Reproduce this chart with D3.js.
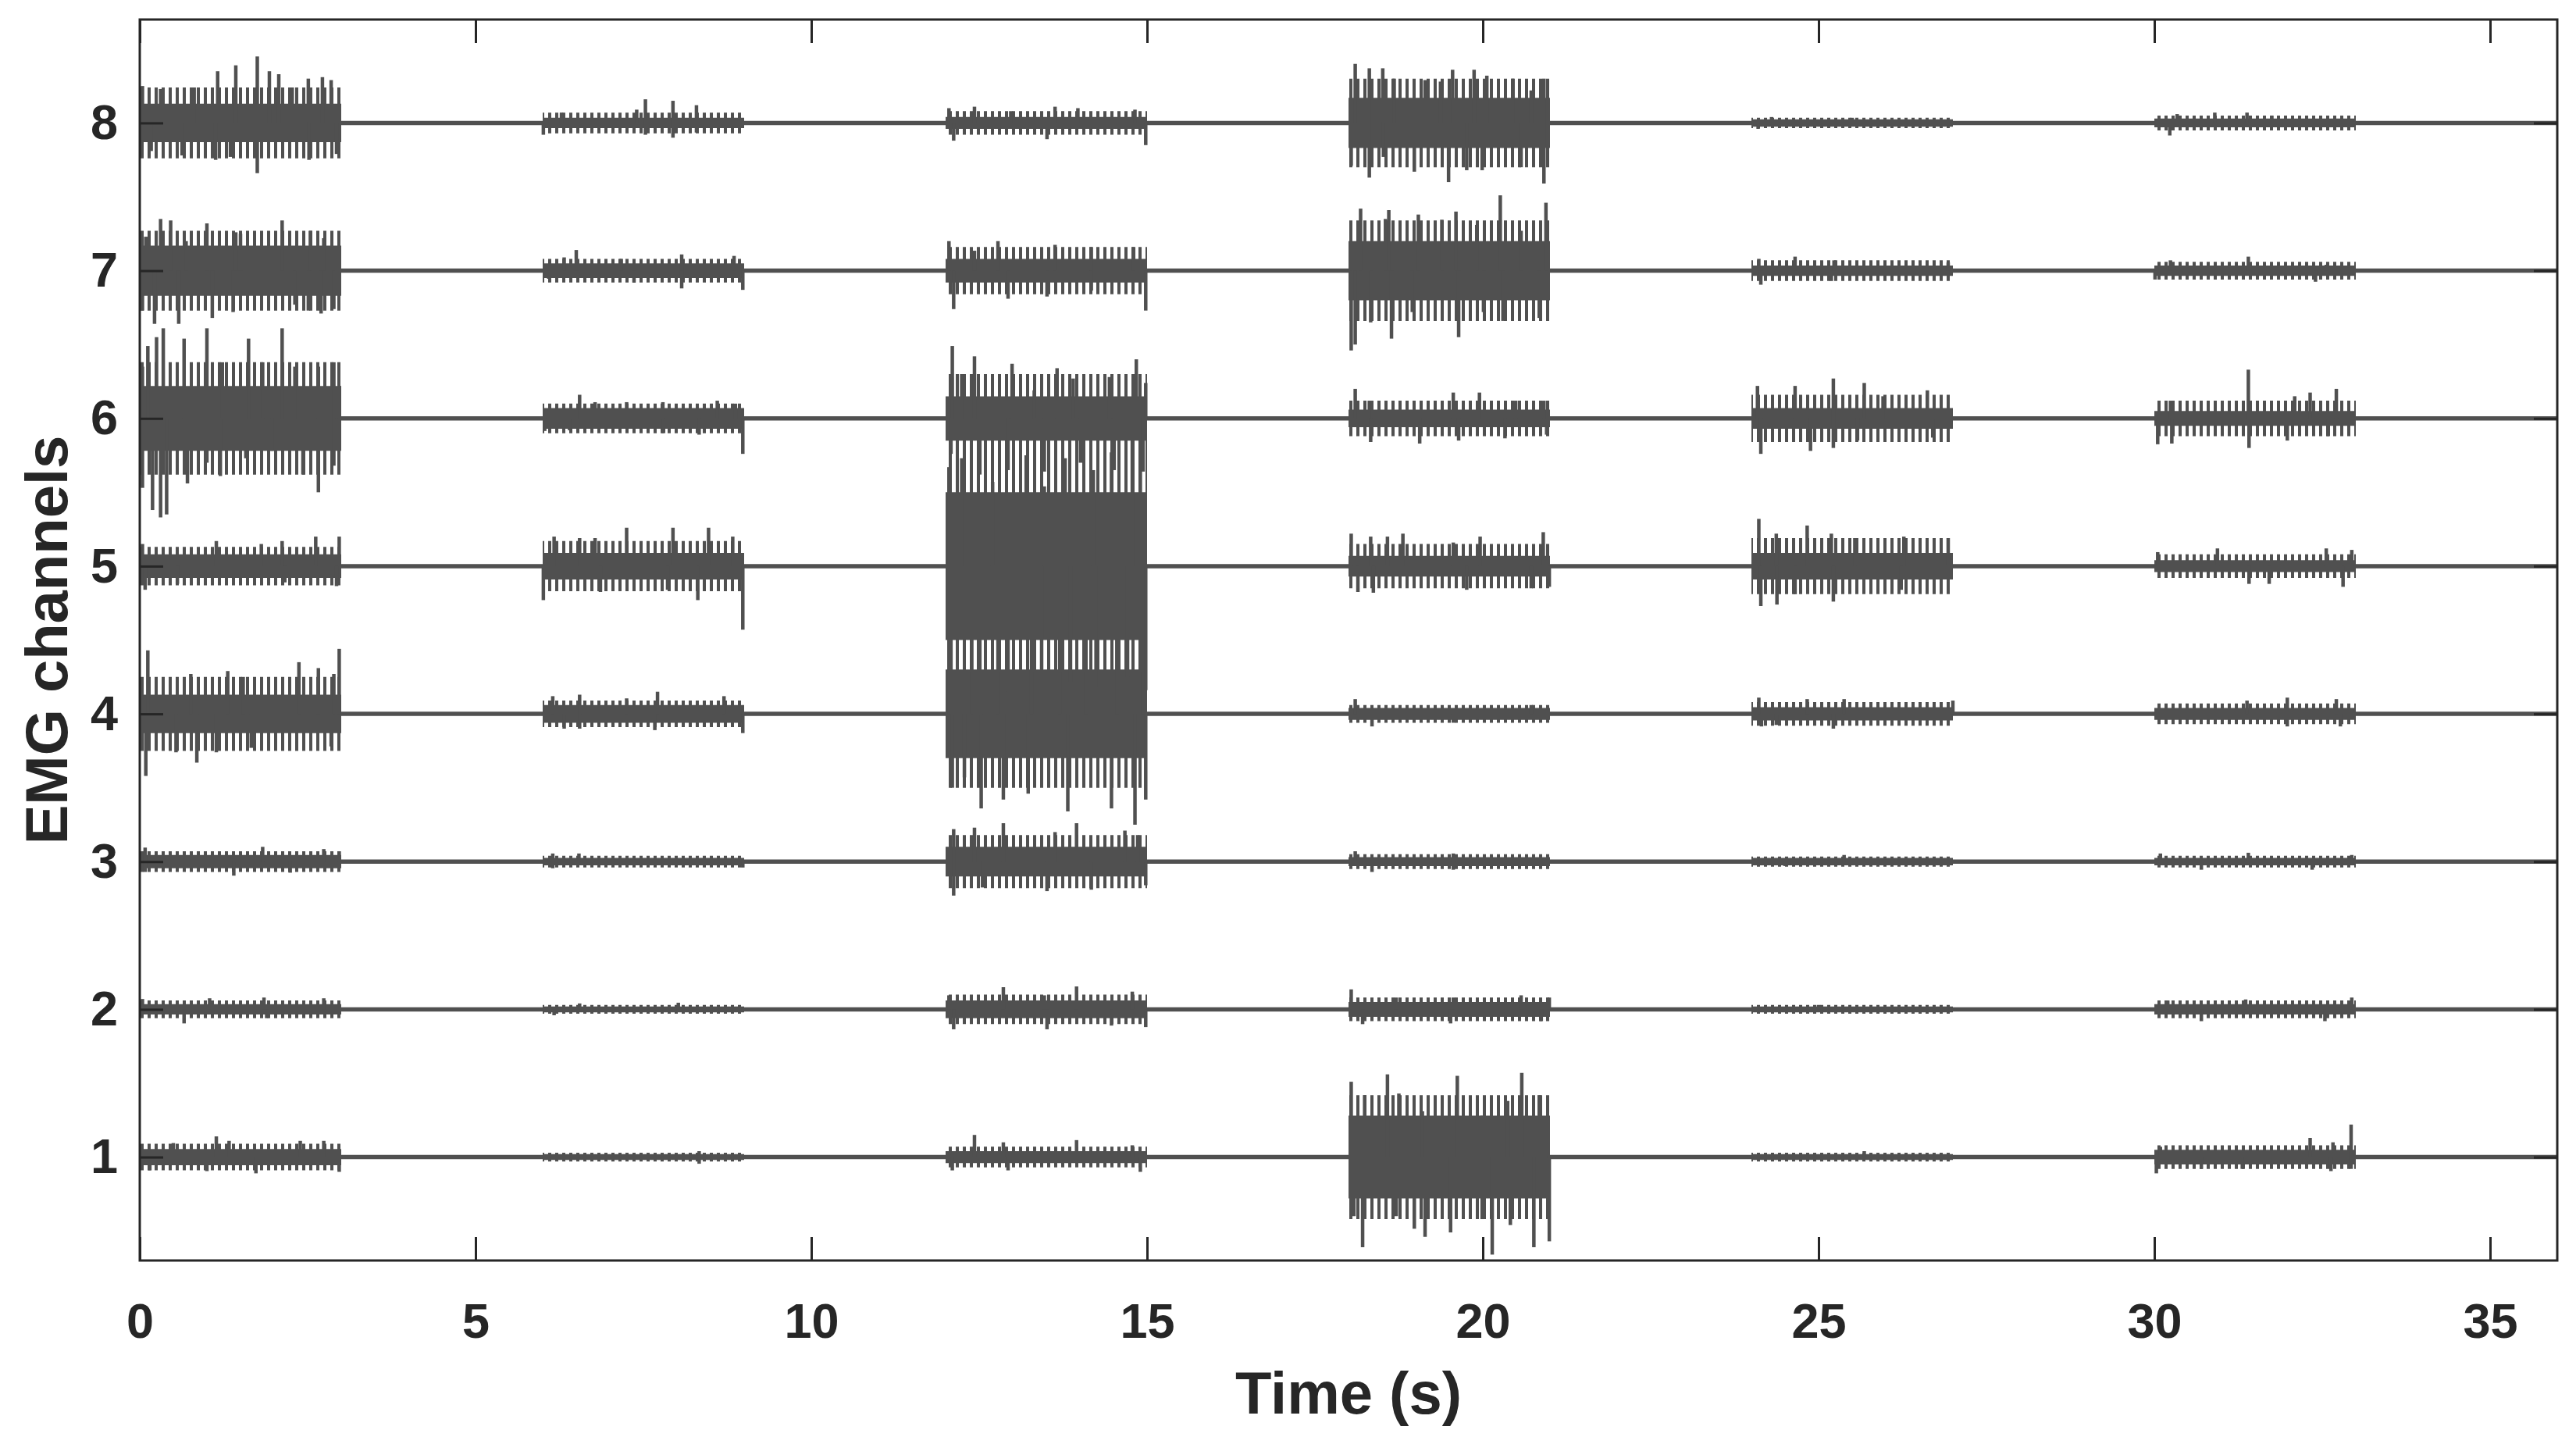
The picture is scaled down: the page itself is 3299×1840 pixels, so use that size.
<!DOCTYPE html>
<meta charset="utf-8">
<head>
  <title>EMG channels</title>
</head>

<style>
  body { margin: 0; background: #fff; }
  text { font-family: "Liberation Sans", Arial, sans-serif; font-weight: bold; fill: #262626; }
</style>

<body>
  <div id="content">
    <svg width="3299" height="1840"></svg>
  </div>

  <script src="https://cdnjs.cloudflare.com/ajax/libs/d3/7.8.5/d3.min.js"></script>

  <script>
  // channel numbers and the six 3-second activity windows
  var channels = [1, 2, 3, 4, 5, 6, 7, 8];
  var burstWindows = [[0, 3], [6, 9], [12, 15], [18, 21], [24, 27], [30, 33]];
  var xTicks = [0, 5, 10, 15, 20, 25, 30, 35];

  // half-height of the solid part of each burst (channel units), rows = channel 1..8
  var coreAmp = [
    [0.055, 0.02, 0.04, 0.28, 0.02, 0.05],
    [0.035, 0.02, 0.06, 0.05, 0.02, 0.035],
    [0.045, 0.025, 0.10, 0.03, 0.025, 0.025],
    [0.13, 0.06, 0.30, 0.04, 0.045, 0.04],
    [0.08, 0.09, 0.50, 0.07, 0.09, 0.04],
    [0.22, 0.07, 0.15, 0.06, 0.07, 0.05],
    [0.17, 0.05, 0.08, 0.20, 0.035, 0.035],
    [0.13, 0.035, 0.04, 0.17, 0.025, 0.03]
  ];

  // half-height reached by most of the spikes in each burst
  var fringeAmp = [
    [0.09, 0.03, 0.07, 0.42, 0.03, 0.08],
    [0.06, 0.03, 0.10, 0.08, 0.03, 0.06],
    [0.07, 0.04, 0.18, 0.05, 0.035, 0.04],
    [0.25, 0.09, 0.50, 0.06, 0.08, 0.07],
    [0.13, 0.17, 0.72, 0.15, 0.19, 0.08],
    [0.38, 0.10, 0.30, 0.12, 0.16, 0.12],
    [0.27, 0.08, 0.16, 0.34, 0.07, 0.06],
    [0.24, 0.07, 0.08, 0.30, 0.035, 0.05]
  ];

  // visible peaks [time (s), deflection]
  var peaks1 = [
    [0.50, 0.095], [1.14, 0.14], [1.33, 0.11], [2.39, 0.11], [2.74, 0.11],
    [0.15, -0.09], [1.00, -0.095], [1.73, -0.11], [2.97, -0.10],
    [8.33, 0.04], [8.33, -0.045],
    [12.43, 0.15], [12.86, 0.10], [13.95, 0.115], [14.78, 0.08],
    [12.10, -0.09], [12.93, -0.09], [14.90, -0.10],
    [18.04, 0.51], [18.24, 0.42], [18.58, 0.56], [18.75, 0.43], [19.10, 0.31], [19.62, 0.55],
    [19.99, 0.28], [20.37, 0.38], [20.58, 0.57], [20.84, 0.42], [20.95, 0.24],
    [18.08, -0.40], [18.21, -0.61], [18.71, -0.40], [18.98, -0.485], [19.14, -0.54], [19.52, -0.51],
    [19.99, -0.42], [20.14, -0.66], [20.41, -0.46], [20.76, -0.61], [20.99, -0.57],
    [25.68, 0.04],
    [30.09, 0.07], [32.32, 0.13], [32.66, 0.10], [32.93, 0.22],
    [30.03, -0.11], [30.70, -0.08], [31.31, -0.08], [32.63, -0.095], [32.93, -0.08]
  ];
  var peaks2 = [
    [0.04, 0.07], [1.04, 0.075], [1.85, 0.08], [2.74, 0.075], [0.66, -0.095], [1.89, -0.06],
    [6.55, 0.04], [8.02, 0.045], [6.17, -0.04],
    [12.05, 0.095], [12.86, 0.15], [13.47, 0.095], [13.95, 0.155], [14.78, 0.12],
    [12.12, -0.135], [13.51, -0.135], [14.47, -0.11], [14.98, -0.12],
    [18.04, 0.135], [18.71, 0.08], [19.56, 0.08], [20.57, 0.095], [20.99, 0.08],
    [18.21, -0.10], [19.52, -0.095], [20.87, -0.08],
    [25.0, 0.03],
    [30.20, 0.06], [31.36, 0.067], [32.94, 0.08], [30.70, -0.08], [32.54, -0.08]
  ];
  var peaks3 = [
    [0.08, 0.095], [1.83, 0.10], [2.74, 0.085], [2.97, 0.07], [0.08, -0.07], [1.40, -0.095], [2.24, -0.075],
    [6.15, 0.055], [6.54, 0.055], [6.15, -0.045], [8.98, -0.04],
    [12.12, 0.22], [12.43, 0.23], [12.86, 0.26], [13.63, 0.20], [13.95, 0.26], [14.67, 0.21], [14.86, 0.18],
    [12.12, -0.23], [12.55, -0.175], [13.51, -0.20], [14.17, -0.19], [14.98, -0.16],
    [18.10, 0.07], [19.56, 0.055], [18.35, -0.07], [19.56, -0.055],
    [25.38, 0.045], [24.5, -0.03],
    [30.09, 0.055], [31.40, 0.06], [32.94, 0.045], [30.70, -0.055], [32.35, -0.055]
  ];
  var peaks4 = [
    [0.12, 0.43], [0.76, 0.27], [1.31, 0.29], [1.54, 0.25], [2.37, 0.35], [2.66, 0.31], [2.89, 0.27], [2.97, 0.44],
    [0.09, -0.42], [0.54, -0.26], [0.85, -0.33], [1.14, -0.26], [1.66, -0.23], [2.85, -0.22],
    [6.15, 0.12], [6.55, 0.13], [7.25, 0.105], [7.71, 0.15], [8.70, 0.12],
    [6.32, -0.10], [6.55, -0.10], [7.67, -0.11], [8.98, -0.13],
    [12.05, 0.62], [12.39, 0.55], [12.78, 0.60], [13.28, 0.58], [13.70, 0.55], [14.09, 0.65], [14.55, 0.60], [14.94, 0.62],
    [12.10, -0.50], [12.28, -0.43], [12.53, -0.64], [12.86, -0.58], [13.23, -0.54], [13.82, -0.66],
    [14.47, -0.64], [14.82, -0.75], [14.98, -0.58],
    [18.10, 0.10], [20.72, 0.06], [18.35, -0.085], [19.56, -0.06],
    [24.11, 0.11], [24.83, 0.10], [25.38, 0.10], [27.0, 0.09], [24.15, -0.085], [24.37, -0.075], [25.22, -0.10],
    [31.38, 0.09], [31.98, 0.11], [32.71, 0.10], [31.98, -0.085], [32.77, -0.085]
  ];
  var peaks5 = [
    [0.04, 0.15], [1.14, 0.17], [1.81, 0.15], [2.12, 0.17], [2.62, 0.20], [2.97, 0.20],
    [0.08, -0.16], [0.56, -0.12], [2.16, -0.11], [2.93, -0.135],
    [6.17, 0.20], [6.55, 0.19], [6.78, 0.19], [7.25, 0.26], [7.94, 0.26], [8.47, 0.26], [8.83, 0.20],
    [6.01, -0.23], [6.86, -0.175], [7.86, -0.16], [8.31, -0.23], [8.98, -0.43],
    [12.05, 0.67], [12.24, 0.73], [12.70, 0.57], [13.20, 0.75], [13.47, 0.54], [13.78, 0.73],
    [14.20, 0.65], [14.47, 0.77], [14.78, 0.86], [14.90, 0.73],
    [12.08, -0.80], [12.51, -0.72], [12.93, -0.85], [13.43, -0.70], [13.86, -0.78], [14.24, -0.82],
    [14.71, -0.75], [14.98, -0.84],
    [18.04, 0.22], [18.33, 0.20], [18.58, 0.20], [18.81, 0.22], [19.56, 0.16], [19.96, 0.20], [20.90, 0.23],
    [18.14, -0.175], [18.37, -0.18], [19.76, -0.16], [20.72, -0.15], [20.99, -0.14],
    [24.11, 0.32], [24.37, 0.22], [24.83, 0.275], [25.19, 0.22], [25.54, 0.19], [26.27, 0.20], [26.93, 0.19],
    [24.14, -0.27], [24.38, -0.26], [24.65, -0.19], [25.22, -0.24], [26.23, -0.16],
    [30.05, 0.095], [30.94, 0.12], [32.56, 0.12], [32.94, 0.11], [31.41, -0.12], [31.71, -0.12], [32.81, -0.14]
  ];
  var peaks6 = [
    [0.04, 0.35], [0.12, 0.49], [0.25, 0.55], [0.35, 0.61], [0.66, 0.54], [1.00, 0.61], [1.23, 0.38],
    [1.62, 0.54], [1.83, 0.38], [2.12, 0.61], [2.31, 0.35], [2.66, 0.35], [2.89, 0.38], [2.97, 0.22],
    [0.04, -0.47], [0.19, -0.62], [0.31, -0.67], [0.40, -0.65], [0.71, -0.44], [1.00, -0.30], [1.20, -0.39],
    [1.58, -0.27], [1.97, -0.22], [2.43, -0.38], [2.66, -0.50], [2.89, -0.32],
    [6.55, 0.16], [6.78, 0.11], [7.25, 0.11], [7.79, 0.11], [8.60, 0.12], [8.87, 0.10],
    [6.03, -0.085], [6.40, -0.08], [7.80, -0.10], [8.33, -0.11], [8.98, -0.24],
    [12.10, 0.49], [12.24, 0.30], [12.43, 0.42], [12.99, 0.37], [13.32, 0.19], [13.66, 0.34], [13.90, 0.27],
    [14.44, 0.28], [14.84, 0.40], [14.98, 0.24],
    [12.08, -0.24], [12.51, -0.38], [12.93, -0.35], [13.47, -0.36], [14.01, -0.30], [14.51, -0.35], [14.94, -0.36],
    [18.10, 0.20], [18.31, 0.12], [19.56, 0.175], [19.95, 0.175], [20.49, 0.12], [20.91, 0.12],
    [18.33, -0.16], [19.06, -0.17], [19.64, -0.15], [20.33, -0.135], [20.95, -0.11],
    [24.09, 0.22], [24.65, 0.22], [25.22, 0.27], [25.68, 0.24], [25.96, 0.15], [26.62, 0.19],
    [24.14, -0.24], [24.88, -0.22], [25.22, -0.20], [25.58, -0.15], [26.70, -0.13],
    [30.24, 0.12], [31.40, 0.33], [32.09, 0.15], [32.32, 0.175], [32.71, 0.20],
    [30.05, -0.175], [30.26, -0.17], [31.41, -0.20], [31.98, -0.15], [32.59, -0.12]
  ];
  var peaks7 = [
    [0.09, 0.23], [0.31, 0.35], [0.46, 0.34], [0.69, 0.20], [1.00, 0.32], [1.43, 0.26], [1.50, 0.25],
    [2.12, 0.34], [2.54, 0.27], [2.74, 0.22],
    [0.04, -0.27], [0.22, -0.36], [0.58, -0.36], [1.08, -0.32], [1.39, -0.28], [2.31, -0.23], [2.51, -0.27],
    [2.70, -0.29], [2.89, -0.26],
    [6.32, 0.09], [6.50, 0.14], [7.17, 0.08], [8.07, 0.11], [8.85, 0.10],
    [6.09, -0.055], [7.36, -0.08], [8.07, -0.12], [8.98, -0.13],
    [12.05, 0.20], [12.43, 0.135], [12.78, 0.20], [13.63, 0.175], [14.17, 0.16], [14.80, 0.16],
    [12.12, -0.26], [12.93, -0.19], [13.51, -0.175], [14.17, -0.135], [14.98, -0.27],
    [18.18, 0.42], [18.55, 0.35], [18.60, 0.41], [19.04, 0.38], [19.39, 0.345], [19.60, 0.40], [19.91, 0.31],
    [20.26, 0.51], [20.57, 0.27], [20.94, 0.46],
    [18.04, -0.54], [18.10, -0.50], [18.33, -0.35], [18.64, -0.46], [18.95, -0.28], [19.64, -0.45],
    [20.01, -0.28], [20.30, -0.34], [20.84, -0.32],
    [24.11, 0.08], [24.65, 0.095], [25.23, 0.07], [26.93, 0.055], [24.14, -0.095], [25.19, -0.07],
    [30.24, 0.07], [31.40, 0.095], [32.56, 0.04], [30.01, -0.06], [32.40, -0.075]
  ];
  var peaks8 = [
    [0.04, 0.25], [0.31, 0.23], [0.81, 0.24], [1.16, 0.35], [1.43, 0.39], [1.75, 0.45], [1.93, 0.35],
    [2.07, 0.33], [2.27, 0.24], [2.51, 0.30], [2.72, 0.31], [2.85, 0.29],
    [0.17, -0.19], [0.63, -0.22], [1.13, -0.25], [1.35, -0.23], [1.75, -0.34], [2.52, -0.25], [2.93, -0.21],
    [6.28, 0.07], [7.40, 0.09], [7.53, 0.16], [7.94, 0.15], [8.29, 0.12],
    [6.01, -0.08], [7.53, -0.08], [7.94, -0.10], [8.29, -0.065],
    [12.05, 0.10], [12.43, 0.11], [12.97, 0.08], [13.63, 0.11], [13.97, 0.10], [14.82, 0.09],
    [12.12, -0.12], [13.51, -0.11], [14.98, -0.15],
    [18.10, 0.40], [18.31, 0.37], [18.51, 0.37], [18.68, 0.30], [19.14, 0.29], [19.37, 0.28], [19.55, 0.36],
    [19.87, 0.36], [20.06, 0.32], [20.45, 0.30], [20.72, 0.22], [20.91, 0.30],
    [18.04, -0.29], [18.31, -0.37], [18.52, -0.23], [18.98, -0.33], [19.49, -0.40], [19.76, -0.32],
    [19.99, -0.32], [20.57, -0.30], [20.91, -0.41],
    [24.3, 0.04], [25.5, 0.035], [24.1, -0.04],
    [30.34, 0.06], [30.90, 0.07], [31.38, 0.07], [31.75, 0.05], [30.23, -0.085]
  ];
  var peaksByChannel = [peaks1, peaks2, peaks3, peaks4, peaks5, peaks6, peaks7, peaks8];

  var traceColor = '#505050';
  var inkColor = '#262626';

  var svg = d3.select('svg');
  var x = d3.scaleLinear().domain([0, 36]).range([179, 3275]);
  var y = d3.scaleLinear().domain([0.3, 8.7]).range([1614, 25]);

  var defs = svg.append('defs');
  defs.append('clipPath').attr('id', 'plot-clip')
    .append('rect')
    .attr('x', x(0)).attr('y', y(8.7))
    .attr('width', x(36) - x(0)).attr('height', y(0.3) - y(8.7));

  // vertical hair texture for the spiky fringe of each burst
  defs.append('pattern')
    .attr('id', 'hair')
    .attr('patternUnits', 'userSpaceOnUse')
    .attr('width', 9).attr('height', 20)
    .append('rect')
    .attr('x', 0).attr('y', 0)
    .attr('width', 4).attr('height', 20)
    .attr('fill', traceColor);

  var plot = svg.append('g').attr('clip-path', 'url(#plot-clip)');

  channels.forEach(function(ch, i) {
    var g = plot.append('g').attr('class', 'channel-' + ch);

    // quiet baseline
    g.append('line')
      .attr('x1', x(0)).attr('x2', x(36))
      .attr('y1', y(ch)).attr('y2', y(ch))
      .attr('stroke', traceColor)
      .attr('stroke-width', 5.5);

    var band = d3.area()
      .x(function(d) { return x(d[0]); })
      .y0(function(d) { return y(ch - d[1]); })
      .y1(function(d) { return y(ch + d[1]); });

    // hairy zone most spikes reach, then the solid part
    burstWindows.forEach(function(w, j) {
      var f = fringeAmp[i][j];
      g.append('path')
        .attr('d', band([[w[0], f], [w[1], f]]))
        .attr('fill', 'url(#hair)');
      var a = coreAmp[i][j];
      g.append('path')
        .attr('d', band([[w[0], a], [w[1], a]]))
        .attr('fill', traceColor);
    });

    // spikes
    g.selectAll('line.spike')
      .data(peaksByChannel[i])
      .enter()
      .append('line')
      .attr('class', 'spike')
      .attr('x1', function(d) { return x(d[0]); })
      .attr('x2', function(d) { return x(d[0]); })
      .attr('y1', y(ch))
      .attr('y2', function(d) { return y(ch + d[1]); })
      .attr('stroke', traceColor)
      .attr('stroke-width', 4.5);
  });

  // axes (ticks point inwards, box on all four sides)
  svg.append('g')
    .attr('transform', 'translate(0,' + y(0.3) + ')')
    .call(d3.axisBottom(x).tickValues(xTicks).tickSizeInner(-30).tickSizeOuter(0).tickPadding(54));
  svg.append('g')
    .attr('transform', 'translate(0,' + y(8.7) + ')')
    .call(d3.axisTop(x).tickValues(xTicks).tickSizeInner(-30).tickSizeOuter(0).tickFormat(''));
  svg.append('g')
    .attr('transform', 'translate(' + x(0) + ',0)')
    .call(d3.axisLeft(y).tickValues(channels).tickSizeInner(-30).tickSizeOuter(0).tickPadding(28));
  svg.append('g')
    .attr('transform', 'translate(' + x(36) + ',0)')
    .call(d3.axisRight(y).tickValues(channels).tickSizeInner(-30).tickSizeOuter(0).tickFormat(''));

  svg.selectAll('.domain').remove();
  svg.selectAll('.tick line').attr('stroke', inkColor).attr('stroke-width', 3);
  svg.selectAll('.tick text')
    .attr('font-size', 63)
    .attr('font-family', '"Liberation Sans", Arial, sans-serif')
    .attr('font-weight', 'bold')
    .attr('fill', inkColor);

  svg.append('rect')
    .attr('x', x(0)).attr('y', y(8.7))
    .attr('width', x(36) - x(0)).attr('height', y(0.3) - y(8.7))
    .attr('fill', 'none')
    .attr('stroke', inkColor)
    .attr('stroke-width', 3);

  svg.append('text')
    .attr('x', (x(0) + x(36)) / 2)
    .attr('y', 1810)
    .attr('text-anchor', 'middle')
    .attr('font-size', 76)
    .text('Time (s)');

  svg.append('text')
    .attr('transform', 'translate(86,' + (y(0.3) + y(8.7)) / 2 + ') rotate(-90)')
    .attr('text-anchor', 'middle')
    .attr('font-size', 76)
    .text('EMG channels');
  </script>
</body>
</html>
